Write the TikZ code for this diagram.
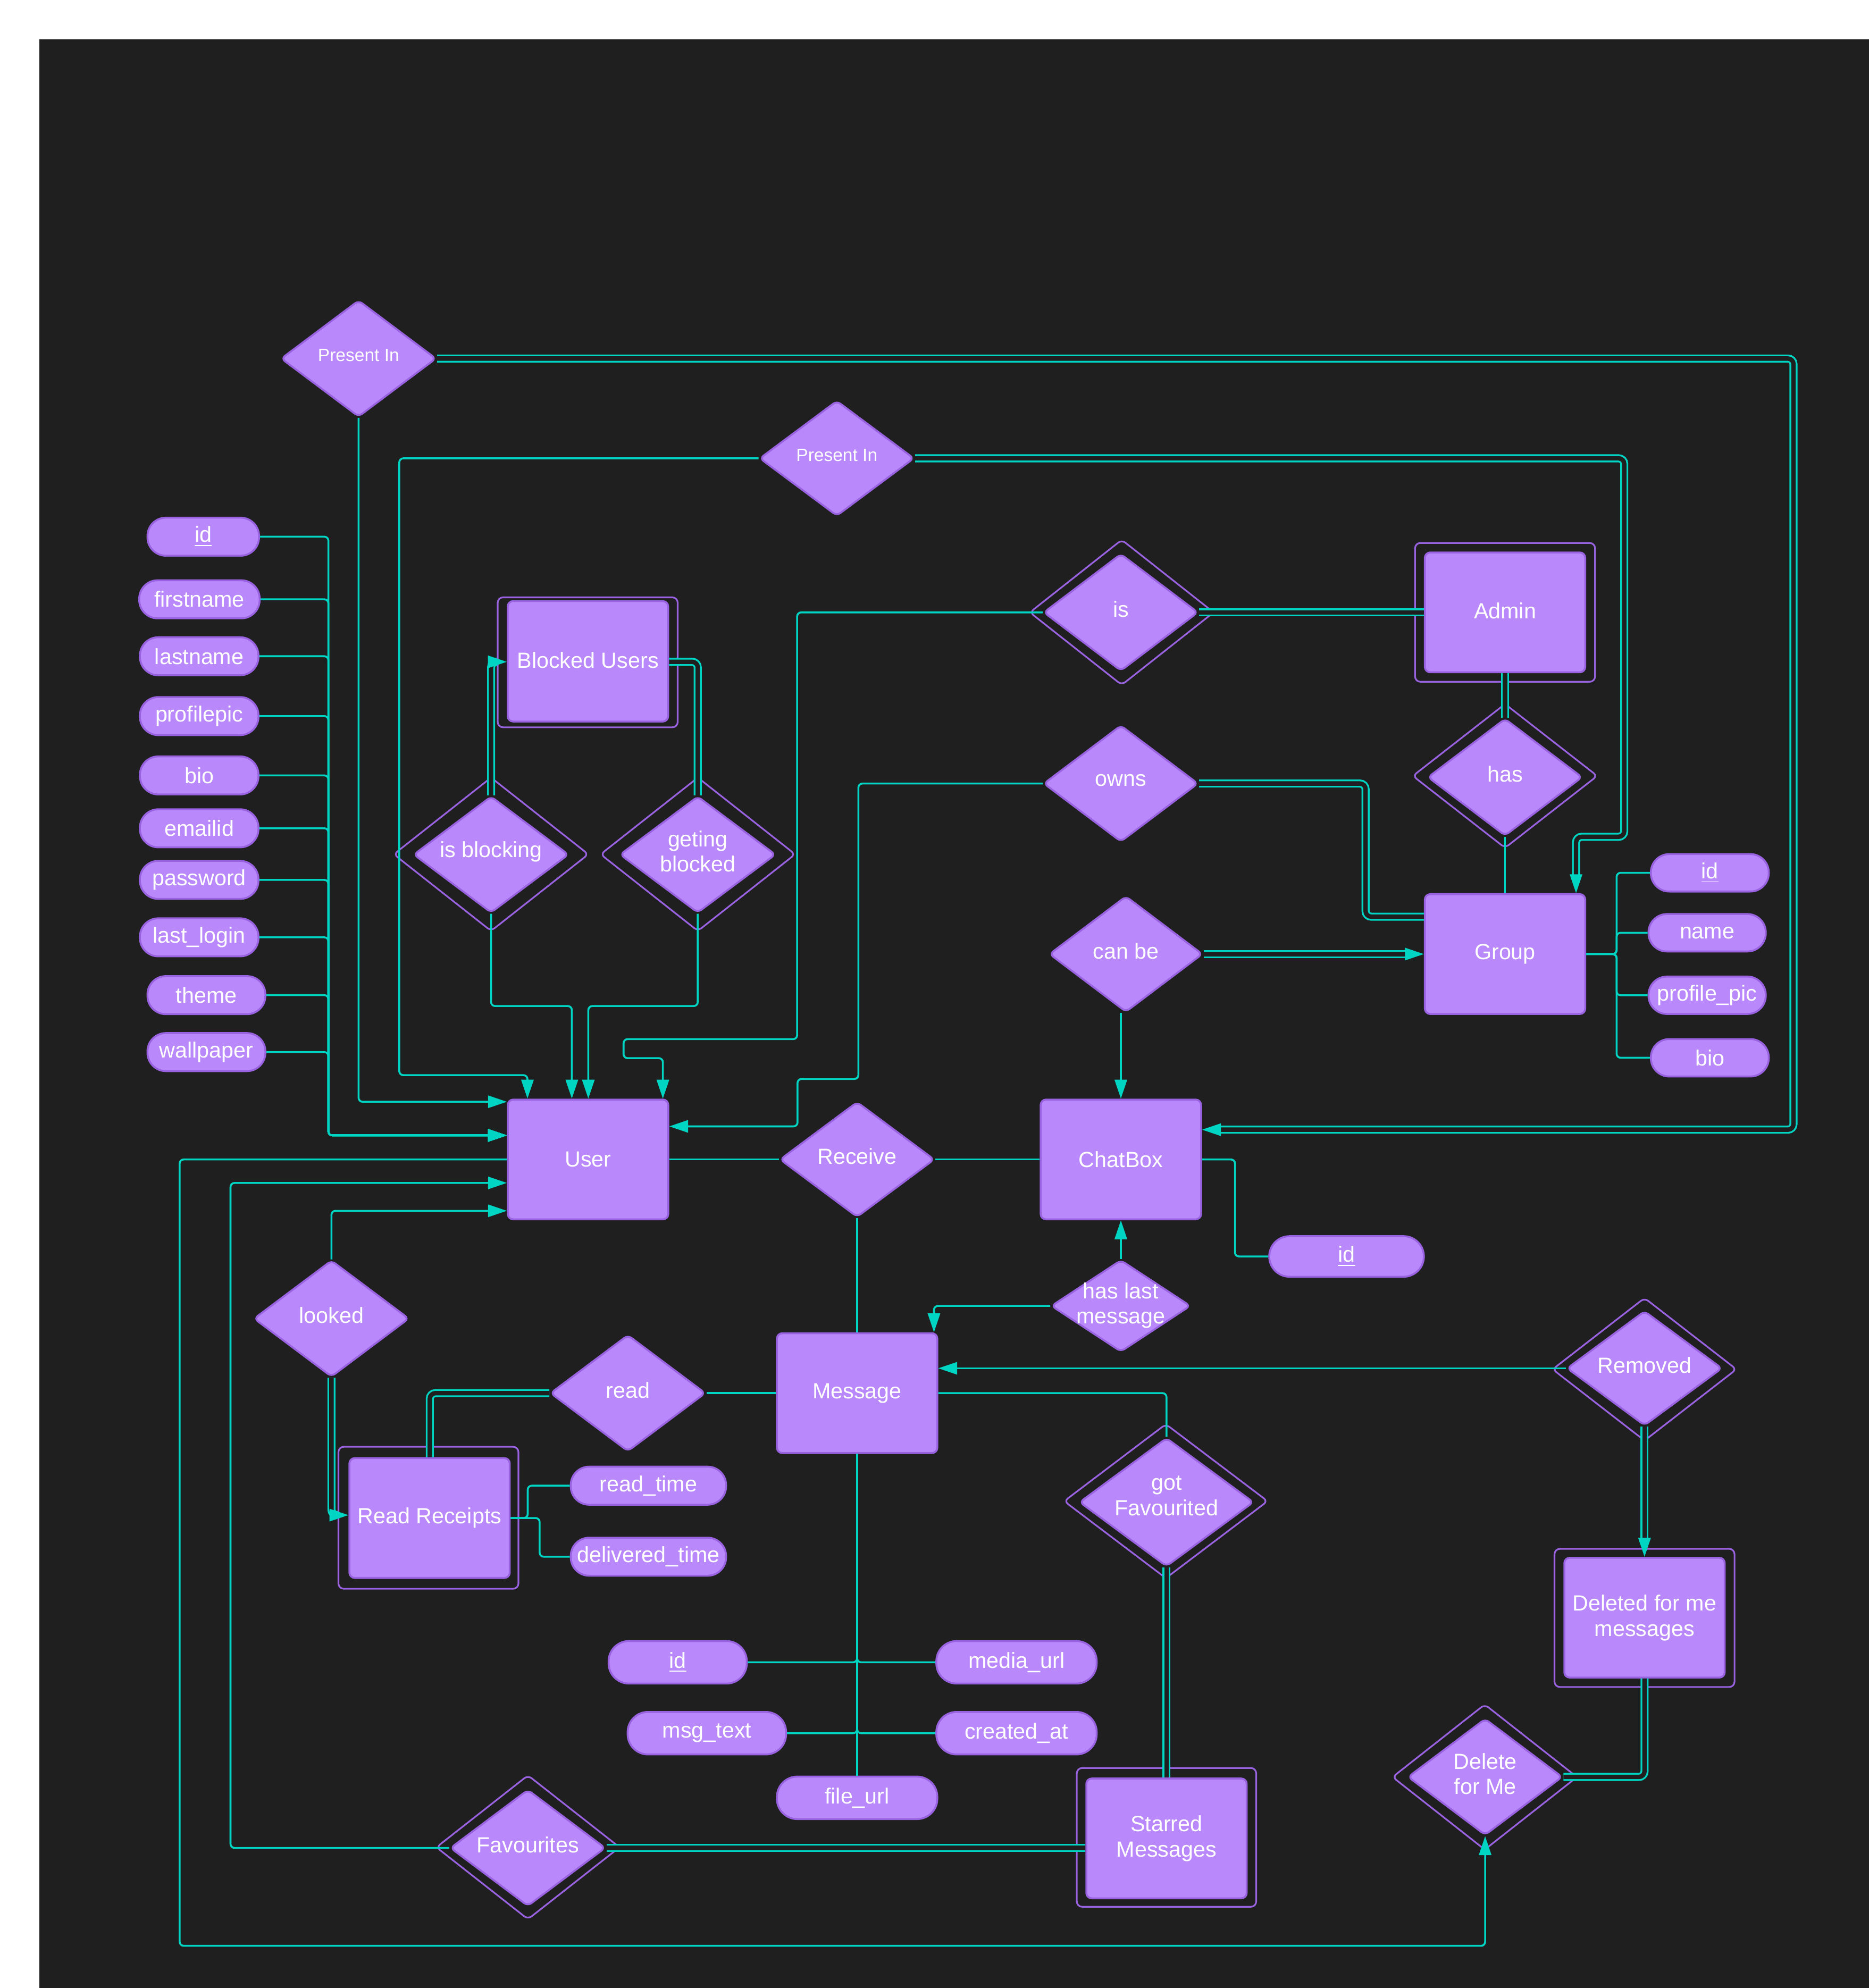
\documentclass[tikz,border=0pt]{standalone}
\usepackage{fontspec}
\setmainfont{Liberation Sans}
\usetikzlibrary{shapes.geometric,arrows.meta}
\definecolor{bgc}{HTML}{1F1F1F}
\definecolor{nfill}{HTML}{B988FB}
\definecolor{nbord}{HTML}{9962E0}
\definecolor{tl}{HTML}{00D5C4}
\tikzset{
  ent/.style={draw=nbord, fill=nfill, line width=0.85pt, rounded corners=2.4pt, minimum width=2.53cm, minimum height=1.89cm, inner sep=0pt, align=center, text=white},
  wout/.style={draw=nbord, line width=0.75pt, rounded corners=2.4pt, inner sep=0pt},
  rel/.style={diamond, draw=nbord, fill=nfill, line width=0.85pt, rounded corners=2pt, inner sep=0pt},
  rout/.style={diamond, draw=nbord, line width=0.75pt, rounded corners=2pt, inner sep=0pt},
  attr/.style={draw=nbord, fill=nfill, line width=0.85pt, rounded corners=0.29cm, minimum height=0.6cm, inner sep=0pt, text=white},
  mattr/.style={attr, rounded corners=0.32cm, minimum height=0.67cm},
  lbl/.style={text=white, align=center, yshift=1.4pt},
  small/.style={font=\fontsize{8pt}{9.5pt}\selectfont},
  ln/.style={draw=tl, line width=0.85pt, rounded corners=1.8pt},
  dbl/.style={draw=tl, line width=0.8pt, double=bgc, double distance=2pt, rounded corners=2.5pt},
  arr/.style={-{Triangle[length=8.5pt,width=5.5pt]}}
}
\begin{document}
\begin{tikzpicture}[x=0.02cm, y=-0.02cm, font=\fontsize{9.85pt}{11.4pt}\selectfont]
\fill[white] (0,0) rectangle (1474,1568);
\fill[bgc] (31,31) rectangle (1474,1568);
\useasboundingbox (0,0) rectangle (1474,1568);

% ---------- entities ----------
\node[ent] (User) at (463.8,914.5) {User};
\node[ent] (ChatBox) at (884,914.5) {ChatBox};
\node[ent] (Message) at (676,1098.8) {Message};
\node[ent] (Group) at (1187,752.5) {Group};
\node[wout, minimum width=2.84cm, minimum height=2.19cm] (AdminO) at (1187,483) {};
\node[ent] (Admin) at (1187,483) {\raisebox{1.4pt}{Admin}};
\node[wout, minimum width=2.84cm, minimum height=2.05cm] (BlockedO) at (463.5,522.4) {};
\node[ent, minimum height=1.90cm] (Blocked) at (463.7,521.6) {\raisebox{1.2pt}{Blocked Users}};
\node[wout, minimum width=2.84cm, minimum height=2.24cm] (RRO) at (337.9,1197.1) {};
\node[ent] (RR) at (338.8,1197.3) {Read Receipts};
\node[wout, minimum width=2.84cm, minimum height=2.18cm] (DelO) at (1297,1276.1) {};
\node[ent] (Del) at (1297,1275.9) {Deleted for me\\messages};
\node[wout, minimum width=2.83cm, minimum height=2.19cm] (StarO) at (920,1449.2) {};
\node[ent] (Star) at (920,1450) {Starred\\Messages};

% ---------- relationships ----------
\node[rel, minimum width=2.45cm, minimum height=1.84cm, label={[lbl,small]center:Present In}] (pin1) at (282.8,282.8) {};
\node[rel, minimum width=2.44cm, minimum height=1.82cm, label={[lbl,small]center:Present In}] (pin2) at (660,361.5) {};
\node[rout, minimum width=2.91cm, minimum height=2.30cm] (isO) at (884.7,483) {};
\node[rel, minimum width=2.44cm, minimum height=1.85cm, label={[lbl]center:is}] (is) at (884,483) {};
\node[rel, minimum width=2.44cm, minimum height=1.84cm, label={[lbl]center:owns}] (owns) at (884,618) {};
\node[rout, minimum width=2.92cm, minimum height=2.28cm] (hasO) at (1187,612) {};
\node[rel, minimum width=2.44cm, minimum height=1.85cm, label={[lbl]center:has}] (has) at (1187,613) {};
\node[rel, minimum width=2.42cm, minimum height=1.83cm, label={[lbl]center:can be}] (canbe) at (888,752.5) {};
\node[rout, minimum width=3.08cm, minimum height=2.43cm] (isblkO) at (387.3,673.8) {};
\node[rel, minimum width=2.45cm, minimum height=1.84cm, label={[lbl]center:is blocking}] (isblk) at (387.3,674) {};
\node[rout, minimum width=3.08cm, minimum height=2.43cm] (getblkO) at (550.4,673.8) {};
\node[rel, minimum width=2.46cm, minimum height=1.84cm, label={[lbl]center:{geting\\blocked}}] (getblk) at (550.3,674) {};
\node[rel, minimum width=2.44cm, minimum height=1.82cm, label={[lbl]center:Receive}] (receive) at (676,914.5) {};
\node[rel, minimum width=2.20cm, minimum height=1.45cm, label={[lbl,yshift=-1.2pt]center:{has last\\message}}] (hlm) at (884,1030) {};
\node[rel, minimum width=2.45cm, minimum height=1.84cm, label={[lbl]center:looked}] (looked) at (261.4,1040) {};
\node[rel, minimum width=2.45cm, minimum height=1.84cm, label={[lbl]center:read}] (read) at (495.2,1098.8) {};
\node[rout, minimum width=3.22cm, minimum height=2.44cm] (gotfavO) at (919.5,1184) {};
\node[rel, minimum width=2.75cm, minimum height=2.03cm, label={[lbl,yshift=1.4pt]center:{got\\Favourited}}] (gotfav) at (920,1184.8) {};
\node[rout, minimum width=2.91cm, minimum height=2.26cm] (removedO) at (1297,1080) {};
\node[rel, minimum width=2.45cm, minimum height=1.81cm, label={[lbl]center:Removed}] (removed) at (1297,1079.2) {};
\node[rout, minimum width=2.92cm, minimum height=2.30cm] (delfmO) at (1171,1401.6) {};
\node[rel, minimum width=2.44cm, minimum height=1.84cm, label={[lbl]center:{Delete\\for Me}}] (delfm) at (1171.3,1401.5) {};
\node[rout, minimum width=2.90cm, minimum height=2.28cm] (favO) at (416.4,1457) {};
\node[rel, minimum width=2.45cm, minimum height=1.84cm, label={[lbl]center:Favourites}] (fav) at (416.3,1457.5) {};

% ---------- attributes ----------
\node[attr, minimum width=1.76cm] (uid) at (160.3,423.3) {\underline{id}};
\node[attr, minimum width=1.90cm] (ufn) at (157.3,472.7) {firstname};
\node[attr, minimum width=1.87cm] (uln) at (157.1,517.6) {lastname};
\node[attr, minimum width=1.87cm] (upp) at (157.1,564.8) {profilepic};
\node[attr, minimum width=1.87cm] (ubio) at (157.1,611.6) {bio};
\node[attr, minimum width=1.87cm] (uem) at (157.1,653.3) {emailid};
\node[attr, minimum width=1.87cm] (upw) at (157.1,694) {password};
\node[attr, minimum width=1.87cm] (ull) at (157.1,739.3) {last\_login};
\node[attr, minimum width=1.86cm] (uth) at (162.8,784.9) {theme};
\node[attr, minimum width=1.86cm] (uwp) at (162.8,829.8) {wallpaper};

\node[attr, minimum width=1.86cm, minimum height=0.59cm] (gid) at (1348.5,688.4) {\underline{id}};
\node[attr, minimum width=1.85cm, minimum height=0.59cm] (gname) at (1346.4,735.7) {name};
\node[attr, minimum width=1.85cm, minimum height=0.59cm] (gpp) at (1346.4,785) {profile\_pic};
\node[attr, minimum width=1.86cm, minimum height=0.59cm] (gbio) at (1348.5,834.3) {bio};

\node[mattr, minimum width=2.44cm, minimum height=0.64cm] (cid) at (1062,991) {\underline{id}};
\node[attr, minimum width=2.45cm] (rtime) at (511.4,1171.8) {read\_time};
\node[attr, minimum width=2.45cm] (dtime) at (511.4,1227.8) {delivered\_time};

\node[mattr, minimum width=2.18cm] (mid) at (534.5,1311.1) {\underline{id}};
\node[mattr, minimum width=2.53cm] (murl) at (801.7,1311.1) {media\_url};
\node[mattr, minimum width=2.50cm] (mtext) at (557.5,1367) {msg\_text};
\node[mattr, minimum width=2.53cm] (mcreated) at (801.7,1367) {created\_at};
\node[mattr, minimum width=2.53cm] (mfile) at (676,1418) {file\_url};

% ---------- waypoints ----------
\coordinate (ubus) at (259,895.5);
\coordinate (cA) at (282.8,869);
\coordinate (cB) at (1414.5,282.8);
\coordinate (cC) at (1414.5,891);
\coordinate (cD) at (314.9,361.5);
\coordinate (cE) at (314.9,848);
\coordinate (cF) at (416,848);
\coordinate (cG) at (1281,361.5);
\coordinate (cH) at (1281,660);
\coordinate (cI) at (1243,660);
\coordinate (cJ) at (387.3,522);
\coordinate (cK) at (550.3,522);
\coordinate (cL) at (387.3,793.5);
\coordinate (cM) at (451,793.5);
\coordinate (cN) at (550.3,793.5);
\coordinate (cO) at (464,793.5);
\coordinate (cP) at (628.7,483);
\coordinate (cQ) at (628.7,819.6);
\coordinate (cR) at (491.8,819.6);
\coordinate (cS) at (491.8,834.6);
\coordinate (cT) at (522.8,834.6);
\coordinate (cU) at (677,618);
\coordinate (cV) at (677,851);
\coordinate (cW) at (629,851);
\coordinate (cX) at (629,888.4);
\coordinate (cY) at (1077,618);
\coordinate (cZ) at (1077,723);
\coordinate (d1) at (974,914.5);
\coordinate (d2) at (974,991);
\coordinate (d3) at (736.6,1030);
\coordinate (d4) at (920,1098.8);
\coordinate (d5) at (181.8,1457.5);
\coordinate (d6) at (181.8,933);
\coordinate (d7) at (141.7,914.5);
\coordinate (d8) at (141.7,1534.7);
\coordinate (d9) at (1171.3,1534.7);
\coordinate (d10) at (261.4,955);
\coordinate (d11) at (261.4,1195);
\coordinate (d12) at (339,1098.8);
\coordinate (d13) at (1297,1401.5);
\coordinate (rrb1) at (416.2,1197.3);
\coordinate (rrb2) at (425.6,1197.3);
\coordinate (gbus) at (1275,752.5);

% ---------- connectors ----------
\foreach \a in {uid,ufn,uln,upp,ubio,uem,upw,ull,uth,uwp}
  \draw[ln,arr] (\a.east) -| (ubus) -- (User.west |- ubus);
\draw[ln,arr] (pin1.south) -- (cA) -- (User.west |- cA);
\draw[dbl,arr] (pin1.east) -- (cB) -- (cC) -- (ChatBox.east |- cC);
\draw[ln,arr] (pin2.west) -- (cD) -- (cE) -- (cF) -- (cF |- User.north);
\draw[dbl,arr] (pin2.east) -- (cG) -- (cH) -- (cI) -- (cI |- Group.north);
\draw[dbl,arr] (isblk.north) -- (cJ) -- (Blocked.west |- cJ);
\draw[dbl] (getblk.north) -- (cK) -- (Blocked.east |- cK);
\draw[ln,arr] (isblk.south) -- (cL) -- (cM) -- (cM |- User.north);
\draw[ln,arr] (getblk.south) -- (cN) -- (cO) -- (cO |- User.north);
\draw[ln,arr] (is.west) -- (cP) -- (cQ) -- (cR) -- (cS) -- (cT) -- (cT |- User.north);
\draw[dbl] (is.east) -- (Admin.west);
\draw[dbl] (Admin.south) -- (has.north);
\draw[ln] (has.south) -- (Group.north);
\draw[ln,arr] (owns.west) -- (cU) -- (cV) -- (cW) -- (cX) -- (User.east |- cX);
\draw[dbl] (owns.east) -- (cY) -- (cZ) -- (Group.west |- cZ);
\draw[dbl,arr] (canbe.east) -- (Group.west);
\draw[ln,arr] (ChatBox.north |- canbe.south) -- (ChatBox.north);
\draw[ln] (User.east) -- (receive.west);
\draw[ln] (receive.east) -- (ChatBox.west);
\draw[ln] (receive.south) -- (Message.north);
\draw[ln] (ChatBox.east) -- (d1) -- (d2) -- (cid.west);
\draw[ln,arr] (hlm.north) -- (ChatBox.south);
\draw[ln,arr] (hlm.west) -- (d3) -- (d3 |- Message.north);
\draw[ln,arr] (removed.west) -- (Message.east |- removed.west);
\draw[ln] (Message.east) -- (d4) -- (gotfav.north);
\draw[dbl] (gotfav.south) -- (Star.north);
\draw[dbl] (Star.west |- fav.east) -- (fav.east);
\draw[ln,arr] (fav.west) -- (d5) -- (d6) -- (User.west |- d6);
\draw[ln,arr] (User.west) -- (d7) -- (d8) -- (d9) -- (delfm.south);
\draw[ln,arr] (looked.north) -- (d10) -- (User.west |- d10);
\draw[dbl,arr] (looked.south) -- (d11) -- (RR.west |- d11);
\draw[dbl] (read.west) -- (d12) -- (d12 |- RR.north);
\draw[ln] (read.east) -- (Message.west);
\draw[ln] (RR.east) -- (rrb1) |- (rtime.west);
\draw[ln] (RR.east) -- (rrb2) |- (dtime.west);
\draw[ln] (mid.east) -| (Message.south);
\draw[ln] (mtext.east) -| (Message.south);
\draw[ln] (murl.west) -| (Message.south);
\draw[ln] (mcreated.west) -| (Message.south);
\draw[ln] (mfile.north) -- (Message.south);
\draw[dbl,arr] (removed.south) -- (Del.north);
\draw[dbl] (Del.south) -- (d13) -- (delfm.east);
\foreach \g in {gid,gname,gpp,gbio}
  \draw[ln] (Group.east) -- (gbus) |- (\g.west);
\end{tikzpicture}
\end{document}
